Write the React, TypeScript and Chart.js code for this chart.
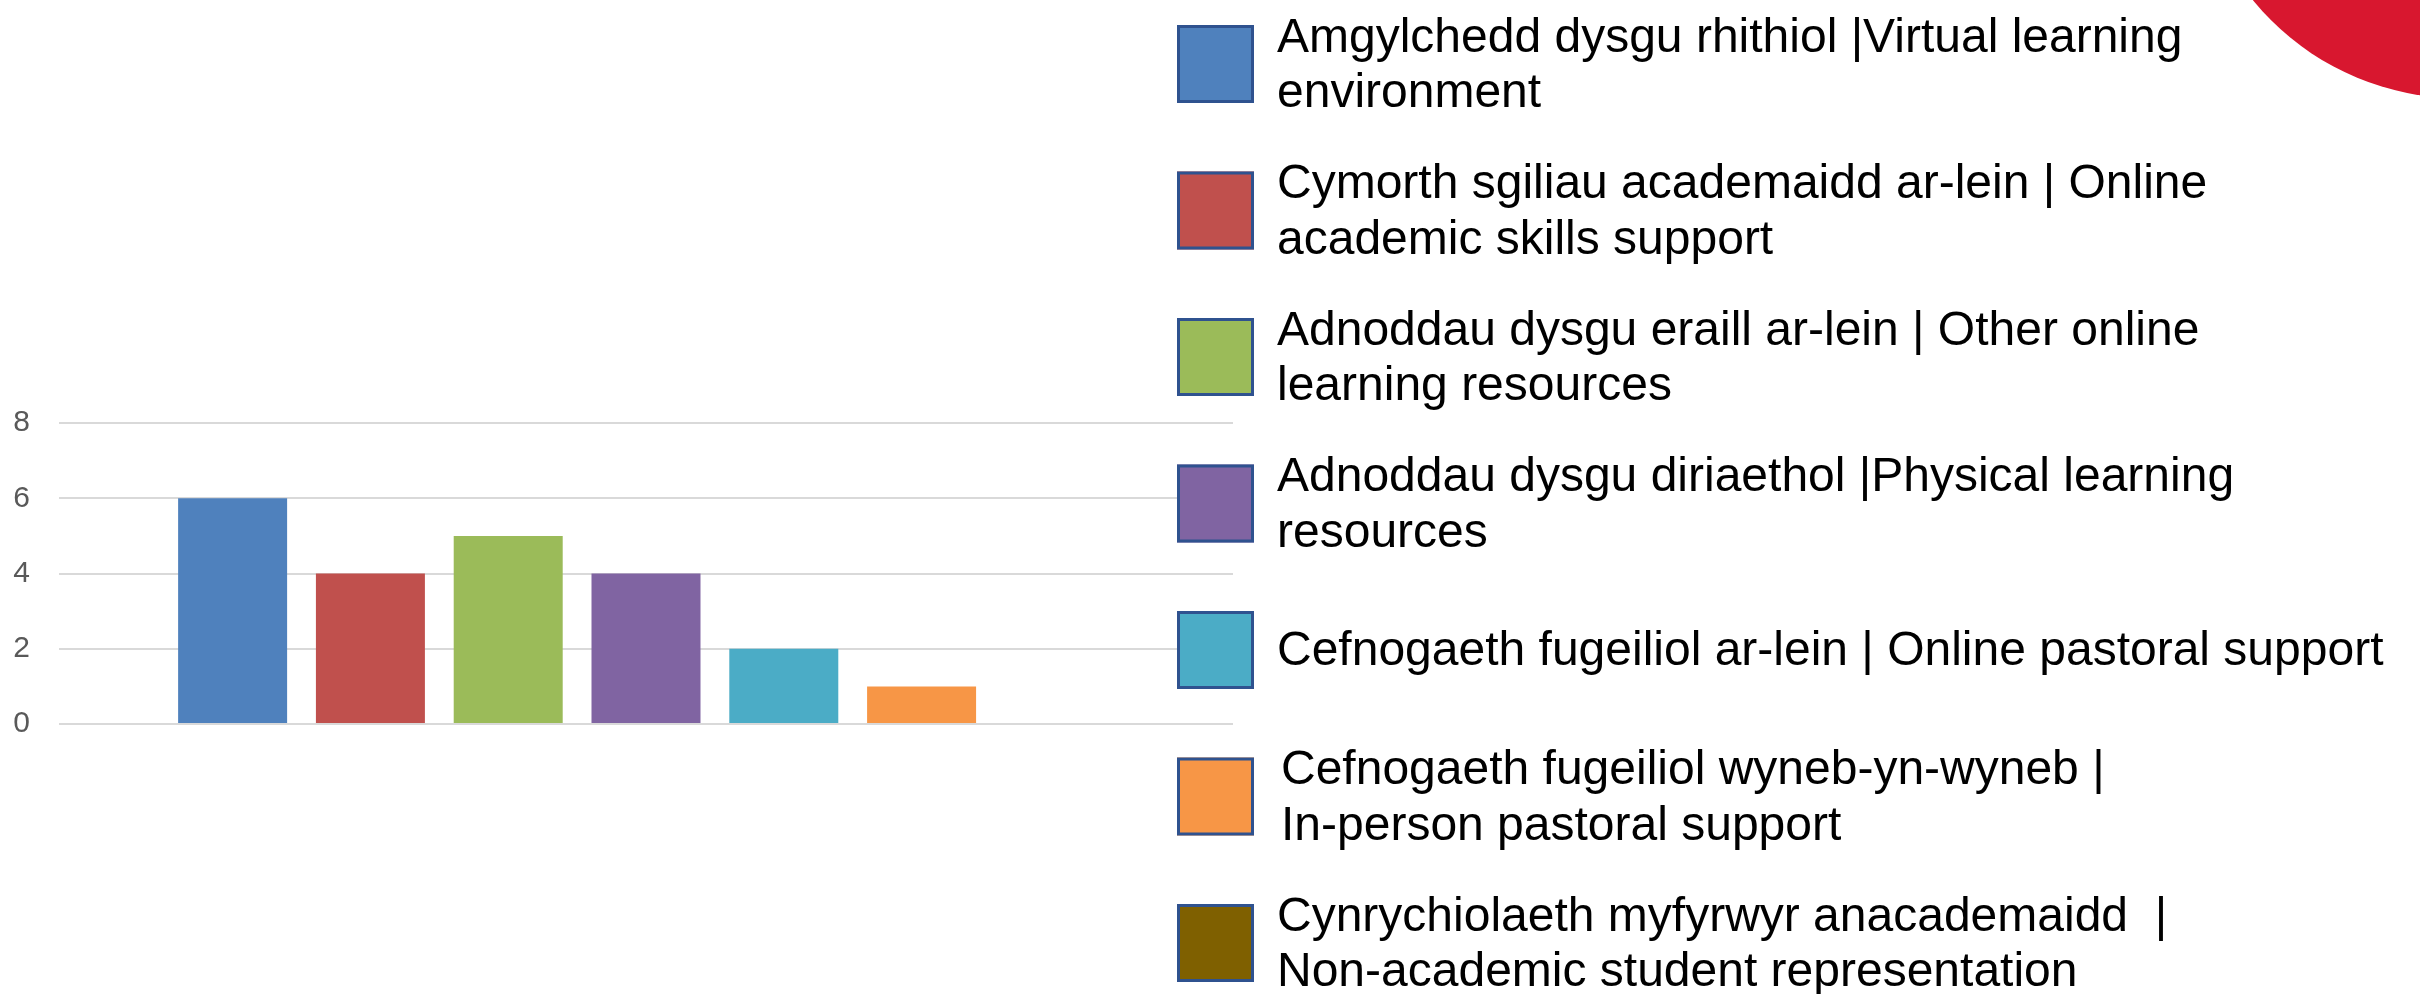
import React, { useEffect, useRef } from 'react';
import { Chart, registerables } from 'chart.js';

Chart.register(...registerables);

// ---- data ----
const categories: string[] = [''];
const legendLines: string[][] = [
  ['Amgylchedd dysgu rhithiol |Virtual learning', 'environment'],
  ['Cymorth sgiliau academaidd ar-lein | Online', 'academic skills support'],
  ['Adnoddau dysgu eraill ar-lein | Other online', 'learning resources'],
  ['Adnoddau dysgu diriaethol |Physical learning', 'resources'],
  ['Cefnogaeth fugeiliol ar-lein | Online pastoral support'],
  ['Cefnogaeth fugeiliol wyneb-yn-wyneb |', 'In-person pastoral support'],
  ['Cynrychiolaeth myfyrwyr anacademaidd  |', 'Non-academic student representation'],
];
const seriesValues: number[] = [6, 4, 5, 4, 2, 1, 0];
const seriesColors: string[] = ['#4F81BD', '#C0504D', '#9BBB59', '#8064A2', '#4BACC6', '#F79646', '#7F6000'];
const yMin = 0;
const yMax = 8;
const yStep = 2;

const FONT = '"Liberation Sans", Arial, sans-serif';

const sidePlugin = {
  id: 'sideLegend',
  afterDraw(chart: any) {
    const ctx: CanvasRenderingContext2D = chart.ctx;
    ctx.save();
    // decorative red shape (top right)
    ctx.fillStyle = '#D8172F';
    ctx.beginPath();
    ctx.arc(2459, -168, 266, 0, Math.PI * 2);
    ctx.fill();

    // legend
    const boxX = 1177;
    const boxW = 77;
    const boxH = 78;
    const firstTop = 25;
    const step = 146.5;
    ctx.font = `48px ${FONT}`;
    ctx.textBaseline = 'alphabetic';
    ctx.textAlign = 'left';
    chart.data.datasets.forEach((ds: any, i: number) => {
      const top = firstTop + i * step;
      ctx.fillStyle = ds.backgroundColor;
      ctx.fillRect(boxX, top, boxW, boxH);
      ctx.strokeStyle = '#2F528F';
      ctx.lineWidth = 3;
      ctx.strokeRect(boxX + 1.5, top + 1.5, boxW - 3, boxH - 3);
      ctx.fillStyle = '#000000';
      const lines = legendLines[i];
      const tx = i === 5 ? 1281 : 1277;
      if (lines.length === 1) {
        ctx.fillText(lines[0], tx, top + 53.5);
      } else {
        ctx.fillText(lines[0], tx, top + 26.5);
        ctx.fillText(lines[1], tx, top + 82);
      }
    });
    ctx.restore();
  },
};

export default function App() {
  const ref = useRef<HTMLCanvasElement | null>(null);
  useEffect(() => {
    if (!ref.current) return;
    const chart = new Chart(ref.current, {
      type: 'bar',
      data: {
        labels: categories,
        datasets: legendLines.map((lines, i) => ({
          label: lines.join(' '),
          data: [seriesValues[i]],
          backgroundColor: seriesColors[i],
          borderWidth: 0,
          categoryPercentage: 0.8216,
          barPercentage: 0.791,
        })),
      },
      options: {
        animation: false,
        responsive: false,
        devicePixelRatio: 1,
        layout: { padding: { left: 0, right: 1187, top: 423, bottom: 270 } },
        plugins: {
          legend: { display: false },
          tooltip: { enabled: false },
        },
        scales: {
          x: { display: false },
          y: {
            min: yMin,
            max: yMax,
            afterFit: (axis: any) => {
              axis.width = 59;
            },
            ticks: {
              stepSize: yStep,
              padding: 29,
              color: '#595959',
              font: { family: FONT, size: 30 },
            },
            grid: { color: '#D9D9D9', lineWidth: 2, drawTicks: false },
            border: { display: false },
          },
        },
      },
      plugins: [sidePlugin],
    });
    return () => chart.destroy();
  }, []);
  return (
    <div style={{ position: 'fixed', left: 0, top: 0, width: 2420, height: 994, background: '#fff' }}>
      <canvas ref={ref} width={2420} height={994} style={{ display: 'block', width: 2420, height: 994 }} />
    </div>
  );
}
